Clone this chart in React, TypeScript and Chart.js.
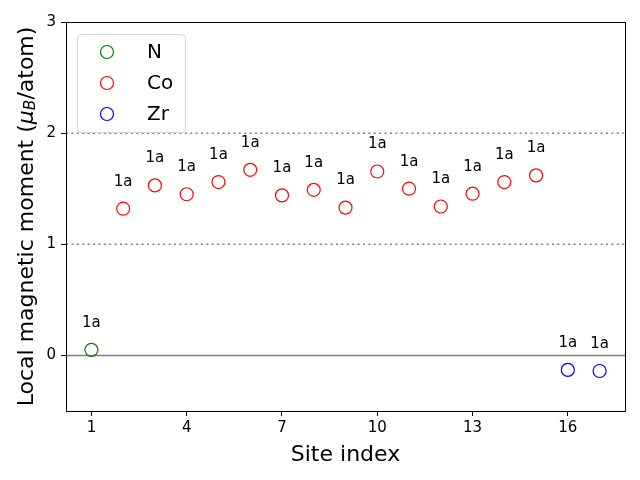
import React, { useEffect, useRef } from 'react';
import { Chart, registerables } from 'chart.js';

Chart.register(...registerables);

// ---- data ----
const nSites = [1];
const nMoments = [0.05];
const nWyckoff = ['1a'];

const coSites = [2, 3, 4, 5, 6, 7, 8, 9, 10, 11, 12, 13, 14, 15];
const coMoments = [1.32, 1.53, 1.45, 1.56, 1.67, 1.44, 1.49, 1.33, 1.655, 1.5, 1.34, 1.455, 1.56, 1.62];
const coWyckoff = ['1a', '1a', '1a', '1a', '1a', '1a', '1a', '1a', '1a', '1a', '1a', '1a', '1a', '1a'];

const zrSites = [16, 17];
const zrMoments = [-0.13, -0.14];
const zrWyckoff = ['1a', '1a'];

const xTicks = [1, 4, 7, 10, 13, 16];
const yTicks = [0, 1, 2, 3];
const dottedLevels = [1, 2];
const solidLevels = [0];

const FONT = "'DejaVu Sans', sans-serif";

const toPoints = (xs: number[], ys: number[]) => xs.map((x, i) => ({ x, y: ys[i] }));

const refLinesPlugin = {
  id: 'refLines',
  beforeDatasetsDraw(chart: any) {
    const { ctx, chartArea } = chart;
    const y = chart.scales.y;
    ctx.save();
    ctx.strokeStyle = '#808080';
    ctx.lineWidth = 1.5;
    ctx.setLineDash([2, 3.4]);
    dottedLevels.forEach((v) => {
      const py = y.getPixelForValue(v);
      ctx.beginPath();
      ctx.moveTo(chartArea.left, py);
      ctx.lineTo(chartArea.right, py);
      ctx.stroke();
    });
    ctx.setLineDash([]);
    solidLevels.forEach((v) => {
      const py = y.getPixelForValue(v);
      ctx.beginPath();
      ctx.moveTo(chartArea.left, py);
      ctx.lineTo(chartArea.right, py);
      ctx.stroke();
    });
    ctx.restore();
  },
};

const siteLabelPlugin = {
  id: 'siteLabels',
  afterDatasetsDraw(chart: any) {
    const { ctx } = chart;
    ctx.save();
    ctx.font = `15px ${FONT}`;
    ctx.fillStyle = '#000';
    ctx.textAlign = 'center';
    ctx.textBaseline = 'middle';
    chart.data.datasets.forEach((ds: any, di: number) => {
      const meta = chart.getDatasetMeta(di);
      meta.data.forEach((pt: any, i: number) => {
        const txt = ds.siteLabels ? ds.siteLabels[i] : '';
        if (txt) ctx.fillText(txt, pt.x, pt.y - 27);
      });
    });
    ctx.restore();
  },
};

const framePlugin = {
  id: 'frame',
  afterDraw(chart: any) {
    const { ctx, chartArea } = chart;
    ctx.save();
    ctx.strokeStyle = '#000';
    ctx.lineWidth = 1;
    ctx.strokeRect(
      Math.round(chartArea.left) + 0.5,
      Math.round(chartArea.top) + 0.5,
      Math.round(chartArea.right - chartArea.left),
      Math.round(chartArea.bottom - chartArea.top)
    );
    ctx.restore();
  },
};

const legendPlugin = {
  id: 'boxLegend',
  afterDraw(chart: any) {
    const { ctx, chartArea } = chart;
    const lx = chartArea.left + 11;
    const ly = chartArea.top + 12;
    const lw = 108;
    const lh = 98;
    ctx.save();
    ctx.beginPath();
    ctx.roundRect(lx + 0.5, ly + 0.5, lw, lh, 4);
    ctx.fillStyle = 'rgba(255,255,255,0.8)';
    ctx.fill();
    ctx.strokeStyle = '#d5d5d5';
    ctx.lineWidth = 1;
    ctx.stroke();
    ctx.font = `20px ${FONT}`;
    ctx.textAlign = 'left';
    ctx.textBaseline = 'middle';
    chart.data.datasets.forEach((ds: any, i: number) => {
      const cy = ly + 18 + i * 31;
      ctx.beginPath();
      ctx.arc(lx + 30, cy, 6.5, 0, Math.PI * 2);
      ctx.strokeStyle = ds.borderColor;
      ctx.lineWidth = 1.2;
      ctx.stroke();
      ctx.fillStyle = '#000';
      ctx.fillText(ds.label, lx + 70, cy + 1);
    });
    ctx.restore();
  },
};

const yTitlePlugin = {
  id: 'yTitle',
  afterDraw(chart: any) {
    const { ctx, chartArea } = chart;
    const cy = (chartArea.top + chartArea.bottom) / 2;
    const cx = 27;
    const normal = `22px ${FONT}`;
    const italic = `italic 22px ${FONT}`;
    const sub = `italic 15.4px ${FONT}`;
    const parts = [
      { t: 'Local magnetic moment (', f: normal, dy: 0 },
      { t: 'μ', f: italic, dy: 0 },
      { t: 'B', f: sub, dy: 4 },
      { t: '/atom)', f: normal, dy: 0 },
    ];
    ctx.save();
    let total = 0;
    const widths = parts.map((p) => {
      ctx.font = p.f;
      const w = ctx.measureText(p.t).width;
      total += w;
      return w;
    });
    ctx.translate(cx, cy);
    ctx.rotate(-Math.PI / 2);
    ctx.fillStyle = '#000';
    ctx.textAlign = 'left';
    ctx.textBaseline = 'middle';
    let x = -total / 2;
    parts.forEach((p, i) => {
      ctx.font = p.f;
      ctx.fillText(p.t, x, p.dy);
      x += widths[i];
    });
    ctx.restore();
  },
};

export default function App() {
  const ref = useRef<HTMLCanvasElement | null>(null);

  useEffect(() => {
    document.body.style.margin = '0';
    const canvas = ref.current;
    if (!canvas) return;
    const common = {
      pointRadius: 6.5,
      pointHoverRadius: 6.5,
      pointBorderWidth: 1.2,
      backgroundColor: 'rgba(0,0,0,0)',
      showLine: false,
    };
    const chart = new Chart(canvas, {
      type: 'scatter',
      data: {
        datasets: [
          { label: 'N', data: toPoints(nSites, nMoments), borderColor: '#008000', siteLabels: nWyckoff, ...common } as any,
          { label: 'Co', data: toPoints(coSites, coMoments), borderColor: '#ff0000', siteLabels: coWyckoff, ...common } as any,
          { label: 'Zr', data: toPoints(zrSites, zrMoments), borderColor: '#0000ff', siteLabels: zrWyckoff, ...common } as any,
        ],
      },
      options: {
        responsive: false,
        animation: false,
        devicePixelRatio: 1,
        layout: { padding: { top: 22, right: 15, left: 0, bottom: 0 } },
        plugins: {
          legend: { display: false },
          tooltip: { enabled: false },
        },
        scales: {
          x: {
            type: 'linear',
            min: 0.2,
            max: 17.8,
            afterBuildTicks: (axis: any) => {
              axis.ticks = xTicks.map((v) => ({ value: v }));
            },
            afterFit: (axis: any) => {
              axis.height = 69;
            },
            grid: {
              display: true,
              drawOnChartArea: false,
              drawTicks: true,
              tickLength: 5,
              tickColor: '#000',
              color: '#000',
            },
            border: { display: true, color: '#000', width: 1 },
            ticks: {
              color: '#000',
              font: { family: FONT, size: 15 },
              padding: 3,
              maxRotation: 0,
              autoSkip: false,
              callback: (v: any) => String(v),
            },
            title: {
              display: true,
              text: 'Site index',
              color: '#000',
              font: { family: FONT, size: 22 },
              padding: { top: 12, bottom: 12 },
            },
          },
          y: {
            type: 'linear',
            min: -0.5,
            max: 3,
            afterBuildTicks: (axis: any) => {
              axis.ticks = yTicks.map((v) => ({ value: v }));
            },
            afterFit: (axis: any) => {
              axis.width = 66;
            },
            grid: {
              display: true,
              drawOnChartArea: false,
              drawTicks: true,
              tickLength: 5,
              tickColor: '#000',
              color: '#000',
            },
            border: { display: true, color: '#000', width: 1 },
            ticks: {
              color: '#000',
              font: { family: FONT, size: 15 },
              padding: 5,
              autoSkip: false,
              callback: (v: any) => String(v),
            },
            title: { display: false },
          },
        },
      },
      plugins: [refLinesPlugin, siteLabelPlugin, framePlugin, legendPlugin, yTitlePlugin],
    });
    return () => chart.destroy();
  }, []);

  return (
    <div style={{ width: 640, height: 480 }}>
      <canvas ref={ref} width={640} height={480} style={{ display: 'block', width: 640, height: 480 }} />
    </div>
  );
}
